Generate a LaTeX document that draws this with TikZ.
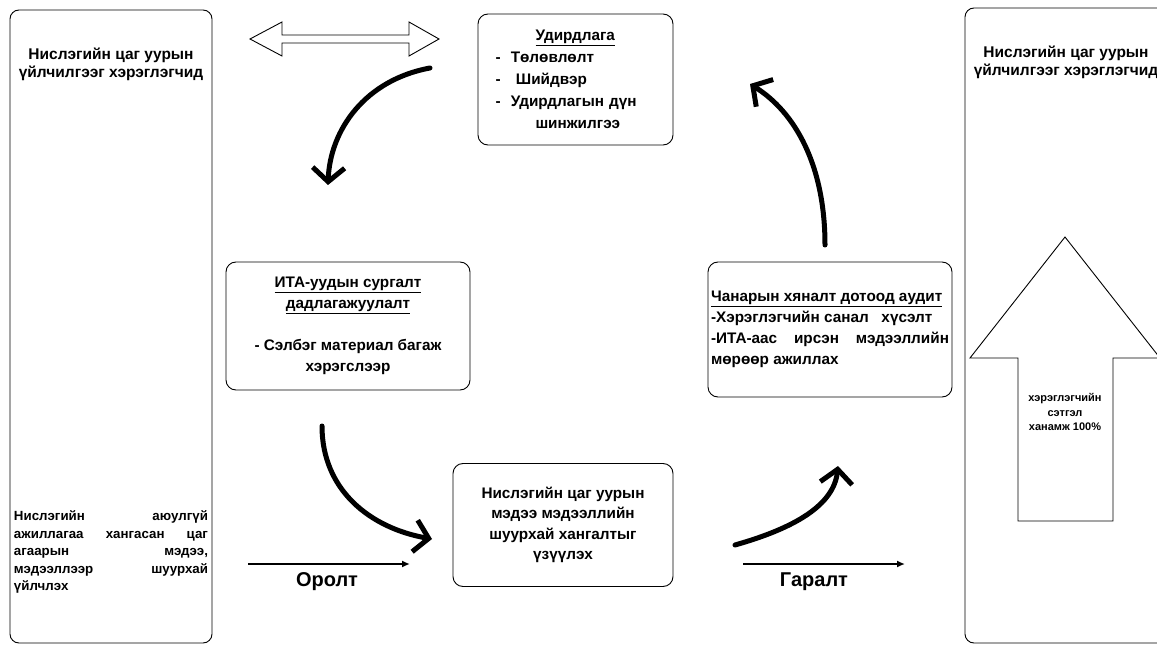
\documentclass[tikz,border=0pt]{standalone}
\usepackage{fontspec}
\setmainfont{Liberation Sans}
\usetikzlibrary{arrows.meta,positioning}
\hyphenpenalty=10000
\exhyphenpenalty=10000

\begin{document}
\begin{tikzpicture}[
  x=1bp, y=-1bp,
  node distance=5bp,
  column/.style={draw, rounded corners=9bp, line width=0.9bp, inner sep=0pt},
  box/.style={draw, rounded corners=10bp, line width=0.9bp, align=center, font=\bfseries\fontsize{15.3bp}{21bp}\selectfont},
  note/.style={align=center, font=\bfseries\fontsize{15.5bp}{18bp}\selectfont},
  curve/.style={line width=5bp, line cap=round, -{Straight Barb[length=14bp,width=32bp]}},
  flow/.style={line width=1.6bp, -{Latex[length=8bp,width=7bp]}},
  flowlabel/.style={font=\bfseries\fontsize{20bp}{22bp}\selectfont}
]
\clip (0,0) rectangle (1157,648);

% side columns
\node[column, minimum width=202bp, minimum height=633bp] (left) at (111,326.5) {};
\node[column, minimum width=215bp, minimum height=635bp] (right) at (1072.5,325.5) {};
\node[note] (lefttop) at (111,64) {Нислэгийн цаг уурын\\үйлчилгээг хэрэглэгчид};
\node[note] (righttop) at (1066,62) {Нислэгийн цаг уурын\\үйлчилгээг хэрэглэгчид};
\node[font=\bfseries\fontsize{13.3bp}{17.5bp}\selectfont, text width=194bp, align=justify, inner sep=0pt] (leftbot) at (111,552)
  {Нислэгийн аюулгүй\linebreak ажиллагаа хангасан цаг\linebreak агаарын мэдээ,\linebreak мэдээллээр шуурхай\linebreak үйлчлэх};

% two-way arrow
\draw[line width=0.9bp] (250,39) -- (282,22) -- (282,35) -- (409,35) -- (409,22) -- (439,39)
  -- (409,56) -- (409,43) -- (282,43) -- (282,56) -- cycle;

% cycle boxes
\node[box, minimum width=195bp, minimum height=131bp, text width=160bp, align=left,
  font=\bfseries\fontsize{15.3bp}{22bp}\selectfont] (udird) at (575.5,79.5)
  {\hspace*{40bp}\underline{Удирдлага}\\-\ \ Төлөвлөлт\\-\ \ \ Шийдвэр\\-\ \ Удирдлагын дүн\\\hspace*{40bp}шинжилгээ};
\node[box, minimum width=244bp, minimum height=128bp] (ita) at (348,326)
  {\underline{ИТА-уудын сургалт}\\\underline{дадлагажуулалт}\\[21bp]- Сэлбэг материал багаж\\хэрэгслээр};
\node[box, minimum width=244bp, minimum height=135bp, text width=238bp, align=justify, inner sep=2bp] (chanar) at (830,329.5)
  {\underline{Чанарын хяналт дотоод аудит}\\-Хэрэглэгчийн санал\ \ \ хүсэлт\\-ИТА-аас ирсэн мэдээллийн мөрөөр ажиллах};
\node[box, minimum width=220bp, minimum height=123bp, font=\bfseries\fontsize{15.3bp}{20.5bp}\selectfont] (niisleg) at (563,525)
  {Нислэгийн цаг уурын\\мэдээ мэдээллийн\\шуурхай хангалтыг\\үзүүлэх};

% satisfaction arrow
\draw[line width=0.9bp] (1018,521) -- (1018,358) -- (970,358) -- (1065,237) -- (1160,358)
  -- (1113,358) -- (1113,521) -- cycle;
\node[align=center, font=\bfseries\fontsize{11bp}{14.5bp}\selectfont] (satisf) at (1065,412)
  {хэрэглэгчийн\\сэтгэл\\ханамж 100\%};

% curved arrows
\coordinate (c1s) at (430,68);  \coordinate (c1e) at (328,185);
\coordinate (c2s) at (322,426); \coordinate (c2e) at (432,539);
\coordinate (c3s) at (735,545); \coordinate (c3e) at (838,466);
\coordinate (c4s) at (825,245); \coordinate (c4e) at (750,84);
\draw[curve] (c1s) .. controls (365,80) and (330,130) .. (c1e);
\draw[curve] (c2s) .. controls (322,490) and (370,528) .. (c2e);
\draw[curve] (c3s) .. controls (795,528) and (834,505) .. (c3e);
\draw[curve] (c4s) .. controls (825,165) and (795,112) .. (c4e);

% input / output
\coordinate (in1) at (248,564);  \coordinate (in2) at (410,564);
\coordinate (out1) at (743,564); \coordinate (out2) at (905,564);
\draw[flow] (in1) -- (in2) coordinate[pos=0.5] (inmid);
\draw[flow] (out1) -- (out2) coordinate[pos=0.5] (outmid);
\node[flowlabel, below=of inmid, xshift=-2bp] (inlabel) {Оролт};
\node[flowlabel, below=of outmid, xshift=-10bp] (outlabel) {Гаралт};
\end{tikzpicture}
\end{document}
